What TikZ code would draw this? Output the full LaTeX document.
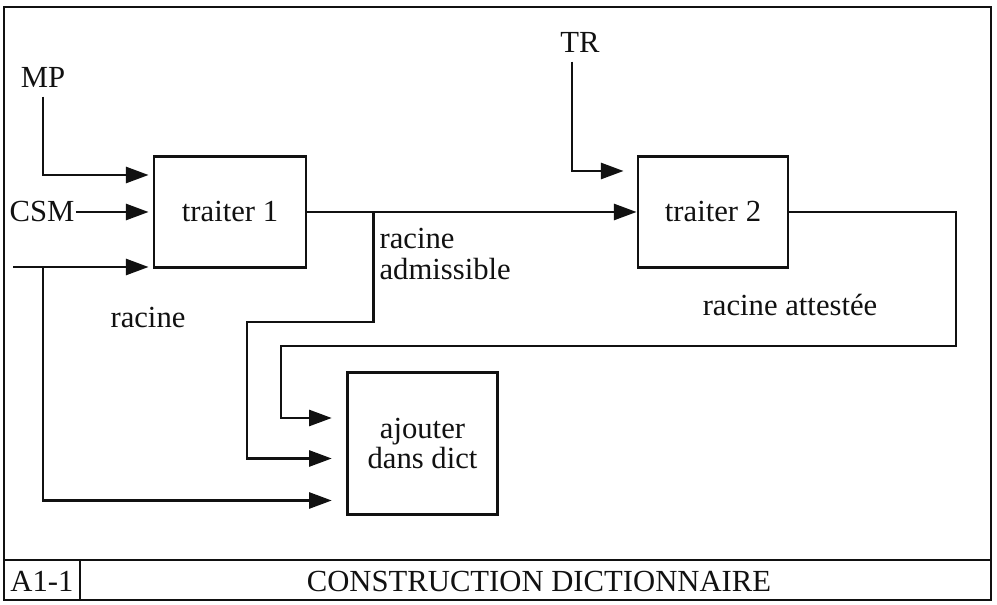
\documentclass[tikz,border=0pt]{standalone}
\usepackage{fontspec}
\setmainfont{Liberation Serif}
\usetikzlibrary{arrows.meta,positioning,calc}
\definecolor{Ink}{HTML}{111111}

\begin{document}
\begin{tikzpicture}[x=0.75pt,y=-0.75pt,
    lbl/.style={font=\fontsize{23}{23}\selectfont,text=Ink,inner sep=1pt},
    box/.style={lbl,draw=Ink,line width=2.1pt,align=center},
    flow/.style={draw=Ink,line width=2pt,-{Triangle[length=17pt,width=12pt]}},
    frame/.style={draw=Ink,line width=1.4pt}]
  \useasboundingbox (0,0) rectangle (997,605);

  % cartouche
  \draw[frame] (4,7) rectangle (991,600);
  \draw[frame,line width=2.2pt] (4,560) -- (991,560);
  \draw[frame,line width=2pt] (80,560) -- (80,600);
  \node[lbl] (num) at (42,581) {A1-1};
  \node[lbl] (titre) at (539,581) {CONSTRUCTION DICTIONNAIRE};

  % boites
  \node[box,minimum width=114pt,minimum height=83pt] (t1) at (230,212) {traiter 1};
  \node[box,minimum width=112.5pt,minimum height=83pt] (t2) at (713,212) {traiter 2};
  \node[box,minimum width=113pt,minimum height=106pt] (aj) at (422.5,443.5) {ajouter\\dans dict};

  % entrees et etiquettes
  \node[lbl] (mp) at (43,77) {MP};
  \node[lbl,anchor=west] (csm) at (8,212) {CSM};
  \node[lbl] (tr) at (580,42) {TR};
  \node[lbl] (racine) at (148,318) {racine};
  \node[lbl,align=left,anchor=west] (adm) at (378,254) {racine\\admissible};
  \node[lbl] (att) at (790,305) {racine attestée};

  \coordinate (rin) at (13,267);
  \coordinate (rsplit) at (43,267);
  \coordinate (asplit) at ($(t1.east)+(66,0)$);

  % liaisons
  \draw[flow] ($(mp.south)+(0,8)$) |- ($(t1.west)+(-4,-37)$);
  \draw[flow] (csm.east) -- ($(t1.west)+(-4,0)$);
  \draw[flow] (rin) -- ($(t1.west)+(-4,55)$);
  \draw[flow] (rsplit) |- ($(aj.west)+(-14,57)$);
  \draw[flow] (t1.east) -- (t2.west);
  \draw[flow] (asplit) |- (247,322) |- ($(aj.west)+(-14,15)$);
  \draw[flow] (t2.east) -| (956,346) -| (281,418) -- ($(aj.west)+(-14,-25.5)$);
  \draw[flow] ($(tr.south)+(-8,8)$) |- ($(t2.west)+(-13,-41)$);
\end{tikzpicture}
\end{document}
